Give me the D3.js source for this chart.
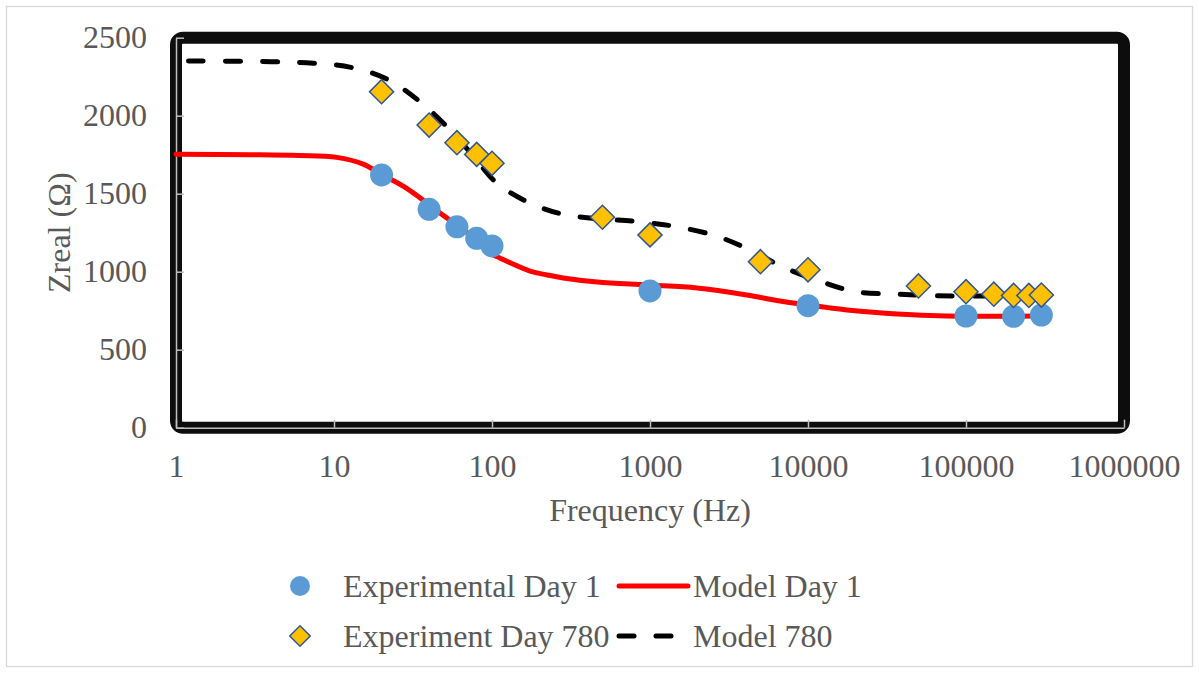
<!DOCTYPE html>
<html>
<head>
<meta charset="utf-8">
<script src="https://cdn.jsdelivr.net/npm/d3@7"></script>
<style>
  html, body { margin: 0; padding: 0; background: #fff; overflow: hidden; }
  svg { display: block; }
  svg text { font-family: "Liberation Serif", "Times New Roman", serif; fill: #595959; }
</style>
</head>
<body>
<div id="viz"></div>
<script>
const width = 1199
const height = 673
const margin = {top: 37.7, bottom: 245.3, right: 75, left: 176}
const innerWidth = width - margin.left - margin.right;
const innerHeight = height - margin.top - margin.bottom;

// Experimental points
const freqDay1 = [20, 40, 60, 80, 100, 1000, 10000, 100000, 200000, 300000];
const zDay1 = [1620, 1400, 1288, 1214, 1165, 877, 782, 716, 714, 722];

const freqDay780 = [20, 40, 60, 80, 100, 500, 1000, 5000, 10000, 50000, 100000, 150000, 200000, 250000, 300000];
const zDay780 = [2154, 1940, 1827, 1752, 1695, 1349, 1236, 1064, 1012, 909, 872, 856, 848, 848, 850];

// Model curves, sampled along the drawn lines
const freqModel1 = [1, 3, 6, 10.4, 15.3, 19.8, 29, 46.9, 75.6, 100, 112, 174, 224, 282, 463, 955, 1980, 4100, 6650, 13700, 17700, 36700, 75000, 300000];
const zModel1 = [1753, 1750, 1745, 1733, 1690, 1626, 1533, 1377, 1222, 1113, 1088, 1004, 979, 960, 934, 915, 896, 851, 812, 768, 755, 729, 716, 716];

const freqModel780 = [1.2, 4, 7.4, 12.8, 21.6, 34.5, 52, 75, 107, 174, 294, 873, 1500, 2620, 4300, 6930, 12300, 20400, 35000, 61900, 100000, 300000];
const zModel780 = [2351, 2346, 2336, 2310, 2235, 2095, 1928, 1750, 1569, 1440, 1364, 1319, 1287, 1229, 1139, 1030, 934, 870, 857, 846, 844, 844];

const xTicks = [1, 10, 100, 1000, 10000, 100000, 1000000];
const yTicks = [0, 500, 1000, 1500, 2000, 2500];

const legendItems = [
  {label: "Experimental Day 1", type: "circle"},
  {label: "Model Day 1", type: "solid"},
  {label: "Experiment Day 780", type: "diamond"},
  {label: "Model 780", type: "dash"}
];

const fontSize = 32;

const svg = d3.select("#viz")
  .append("svg")
  .attr("width", width)
  .attr("height", height);

// chart frame
svg.append("rect")
  .attr("x", 6.5).attr("y", 6.5)
  .attr("width", width - 13).attr("height", height - 13)
  .attr("fill", "#fff")
  .attr("stroke", "#d9d9d9")
  .attr("stroke-width", 1.3);

const g = svg.append("g")
  .attr("transform", "translate(" + margin.left + "," + margin.top + ")");

const xScale = d3.scaleLog().domain([1, 1000000]).range([0, innerWidth]);
const yScale = d3.scaleLinear().domain([0, 2500]).range([innerHeight, 0]);

// thick plot border
g.append("rect")
  .attr("x", 0).attr("y", 0)
  .attr("width", innerWidth).attr("height", innerHeight)
  .attr("rx", 7)
  .attr("fill", "none")
  .attr("stroke", "#0d0d0d")
  .attr("stroke-width", 12);

const xAxisG = g.append("g")
  .attr("transform", "translate(0," + innerHeight + ")")
  .call(d3.axisBottom(xScale)
    .tickValues(xTicks)
    .tickFormat(d3.format("d"))
    .tickSize(-8)
    .tickSizeOuter(0)
    .tickPadding(27));

const yAxisG = g.append("g")
  .call(d3.axisLeft(yScale)
    .tickValues(yTicks)
    .tickFormat(d3.format("d"))
    .tickSize(-8)
    .tickSizeOuter(0)
    .tickPadding(29));

[xAxisG, yAxisG].forEach(a => {
  a.attr("font-family", "Liberation Serif, Times New Roman, serif")
    .attr("font-size", fontSize);
  a.select(".domain").attr("stroke", "#bfbfbf").attr("stroke-width", 1.5);
  a.selectAll(".tick line").attr("stroke", "#bfbfbf").attr("stroke-width", 1.5);
  a.selectAll(".tick text").attr("fill", "#595959");
});

// axis titles
svg.append("text")
  .attr("x", margin.left + innerWidth / 2)
  .attr("y", 521)
  .attr("text-anchor", "middle")
  .attr("font-size", fontSize)
  .text("Frequency (Hz)");

svg.append("text")
  .attr("transform", "rotate(-90)")
  .attr("x", -(margin.top + innerHeight / 2))
  .attr("y", 70)
  .attr("text-anchor", "middle")
  .attr("font-size", fontSize)
  .text("Zreal (Ω)");

// model lines
const line = d3.line()
  .x(d => xScale(d[0]))
  .y(d => yScale(d[1]))
  .curve(d3.curveCatmullRom.alpha(0.5));

g.append("path")
  .datum(d3.zip(freqModel1, zModel1))
  .attr("d", line)
  .attr("fill", "none")
  .attr("stroke", "#ff0000")
  .attr("stroke-width", 5)
  .attr("stroke-linecap", "round");

g.append("path")
  .datum(d3.zip(freqModel780, zModel780))
  .attr("d", line)
  .attr("fill", "none")
  .attr("stroke", "#000")
  .attr("stroke-width", 5)
  .attr("stroke-dasharray", "15,22")
  .attr("stroke-linecap", "round");

// experimental markers
g.selectAll(".dot1")
  .data(d3.zip(freqDay1, zDay1))
  .enter().append("circle")
  .attr("class", "dot1")
  .attr("cx", d => xScale(d[0]))
  .attr("cy", d => yScale(d[1]))
  .attr("r", 11.5)
  .attr("fill", "#5b9bd5");

const diamond = d3.symbol().type(d3.symbolSquare).size(290);

g.selectAll(".dot780")
  .data(d3.zip(freqDay780, zDay780))
  .enter().append("path")
  .attr("class", "dot780")
  .attr("d", diamond)
  .attr("transform", d => "translate(" + xScale(d[0]) + "," + yScale(d[1]) + ") rotate(45)")
  .attr("fill", "#ffc000")
  .attr("stroke", "#2f5597")
  .attr("stroke-width", 1.5);

// legend
const legendPos = [
  {mx: 300, tx: 343, y: 586},
  {mx: 652, tx: 693, y: 586},
  {mx: 300, tx: 343, y: 636},
  {mx: 652, tx: 693, y: 636}
];

const legend = svg.append("g").attr("class", "legend");

legendItems.forEach((item, i) => {
  const p = legendPos[i];
  if (item.type === "circle") {
    legend.append("circle")
      .attr("cx", p.mx).attr("cy", p.y).attr("r", 10)
      .attr("fill", "#5b9bd5");
  } else if (item.type === "diamond") {
    legend.append("path")
      .attr("d", d3.symbol().type(d3.symbolSquare).size(210))
      .attr("transform", "translate(" + p.mx + "," + p.y + ") rotate(45)")
      .attr("fill", "#ffc000")
      .attr("stroke", "#2f5597")
      .attr("stroke-width", 1.5);
  } else {
    legend.append("line")
      .attr("x1", p.mx - 33).attr("x2", p.mx + 36)
      .attr("y1", p.y).attr("y2", p.y)
      .attr("stroke", item.type === "solid" ? "#ff0000" : "#000")
      .attr("stroke-width", 5)
      .attr("stroke-linecap", "round")
      .attr("stroke-dasharray", item.type === "dash" ? "15,22" : null);
  }
  legend.append("text")
    .attr("x", p.tx)
    .attr("y", p.y)
    .attr("dy", "0.33em")
    .attr("font-size", fontSize)
    .text(item.label);
});
</script>
</body>
</html>
